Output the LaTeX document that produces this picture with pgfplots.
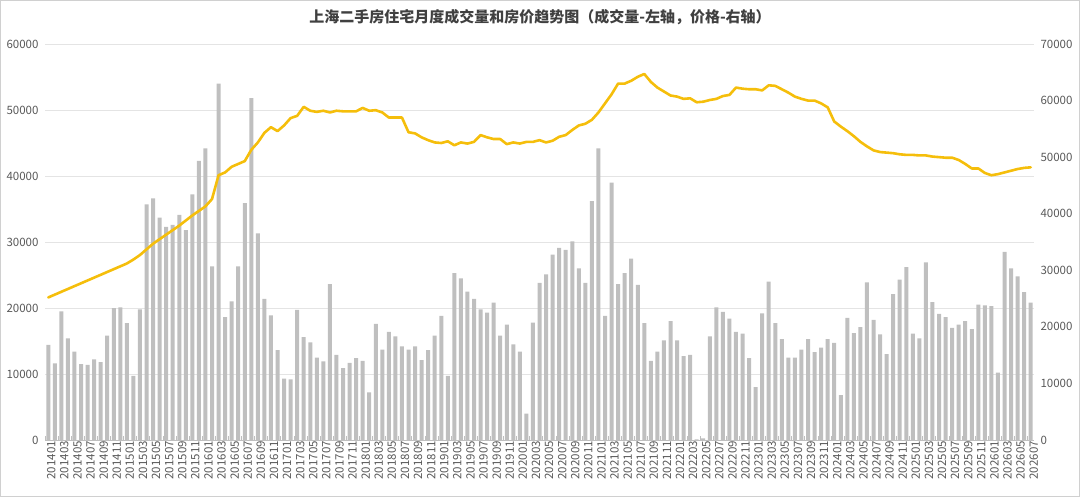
\documentclass[border=0pt]{standalone}
\usepackage{pgfplots}
\pgfplotsset{compat=1.18}
\usepackage{pgfplotstable}
\usepackage{fontspec}
\setmainfont{Noto Sans CJK SC}
\definecolor{barc}{HTML}{BFBFBF}
\definecolor{linec}{HTML}{F5BE0B}
\definecolor{gridc}{HTML}{E4E4E4}
\definecolor{tickc}{HTML}{595959}
\definecolor{titlec}{HTML}{404040}
\definecolor{framec}{HTML}{D0D0D0}

\pgfplotstableread{
x vol price
0 14400 25200
1 11600 25700
2 19500 26200
3 15400 26700
4 13400 27200
5 11500 27700
6 11400 28200
7 12200 28700
8 11800 29200
9 15800 29700
10 20000 30200
11 20100 30700
12 17700 31200
13 9700 31900
14 19800 32700
15 35700 33700
16 36600 34700
17 33700 35500
18 32300 36300
19 32600 37100
20 34100 37900
21 31800 38800
22 37200 39700
23 42300 40500
24 44200 41300
25 26300 42600
26 54000 46800
27 18600 47300
28 21000 48300
29 26300 48800
30 35900 49300
31 51800 51300
32 31300 52600
33 21400 54300
34 18900 55300
35 13600 54600
36 9300 55600
37 9200 56900
38 19700 57300
39 15600 58900
40 14800 58200
41 12500 58000
42 11900 58200
43 23600 57900
44 12900 58200
45 10900 58100
46 11700 58100
47 12400 58100
48 12000 58700
49 7200 58200
50 17600 58300
51 13700 57900
52 16400 57000
53 15700 57000
54 14200 57000
55 13700 54400
56 14200 54200
57 12100 53500
58 13600 53000
59 15800 52600
60 18800 52500
61 9700 52800
62 25300 52100
63 24500 52600
64 22500 52400
65 21400 52700
66 19800 53900
67 19300 53500
68 20800 53200
69 15800 53200
70 17500 52300
71 14500 52600
72 13400 52400
73 4000 52700
74 17800 52700
75 23800 53000
76 25100 52600
77 28100 52900
78 29100 53600
79 28800 53900
80 30100 54800
81 26000 55600
82 23800 55900
83 36200 56600
84 44200 57900
85 18800 59500
86 39000 61100
87 23600 63000
88 25300 63000
89 27500 63500
90 23500 64200
91 17700 64700
92 12000 63300
93 13400 62300
94 15100 61600
95 18000 60900
96 15100 60700
97 12700 60300
98 12900 60400
99 100 59700
100 250 59800
101 15700 60100
102 20100 60300
103 19400 60800
104 18400 61000
105 16400 62300
106 16100 62100
107 12400 62000
108 8000 62000
109 19200 61800
110 24000 62700
111 17700 62600
112 15300 62000
113 12500 61400
114 12500 60700
115 13700 60300
116 15300 60000
117 13300 60000
118 14000 59500
119 15300 58800
120 14700 56300
121 6800 55400
122 18500 54600
123 16200 53700
124 17100 52700
125 23900 51900
126 18200 51200
127 16000 50900
128 13000 50800
129 22100 50700
130 24300 50500
131 26200 50400
132 16100 50400
133 15400 50300
134 26900 50300
135 20900 50100
136 19100 50000
137 18600 49900
138 17000 49900
139 17500 49500
140 18000 48800
141 16800 48000
142 20500 48000
143 20400 47200
144 20300 46800
145 10200 47000
146 28500 47300
147 26000 47600
148 24800 47900
149 22400 48100
150 20800 48200
}\datatable

\begin{document}
\begin{tikzpicture}
\useasboundingbox (0,0) rectangle (1080bp,497bp);
\draw[framec, line width=1bp] (0.5bp,0.5bp) rectangle (1079.5bp,496.5bp);
\node[text=titlec, font=\fontsize{15bp}{18bp}\selectfont\bfseries] at (540bp,480bp)
  {上海二手房住宅月度成交量和房价趋势图（成交量-左轴，价格-右轴）};

\begin{axis}[
  at={(45bp,57bp)}, anchor=south west,
  scale only axis, width=989bp, height=396bp,
  xmin=-0.5, xmax=150.5,
  ymin=0, ymax=60000,
  ytick={0,10000,...,60000},
  scaled y ticks=false,
  /pgf/number format/.cd, set thousands separator={}, assume math mode=true, /pgfplots/.cd,
  axis x line*=bottom, axis y line*=left,
  y axis line style={draw=none},
  x axis line style={draw=barc, line width=0.8bp, -},
  ymajorgrids, grid style={gridc, line width=0.8bp},
  major tick length=0pt,
  xtick={0,2,...,150},
  minor xtick={-0.5,1.5,...,150.5},
  minor tick length=4bp,
  minor tick style={barc, line width=0.6bp},
  xtick pos=bottom,
  xminorgrids=false,
  minor x grid style={draw=none},
  xticklabels={201401,201403,201405,201407,201409,201411,
    201501,201503,201505,201507,201509,201511,
    201601,201603,201605,201607,201609,201611,
    201701,201703,201705,201707,201709,201711,
    201801,201803,201805,201807,201809,201811,
    201901,201903,201905,201907,201909,201911,
    202001,202003,202005,202007,202009,202011,
    202101,202103,202105,202107,202109,202111,
    202201,202203,202205,202207,202209,202211,
    202301,202303,202305,202307,202309,202311,
    202401,202403,202405,202407,202409,202411,
    202501,202503,202505,202507,202509,202511,
    202601,202603,202605,202607},
  xticklabel style={rotate=90, anchor=east, inner sep=1bp, xshift=0bp, yshift=-3bp, font=\fontsize{11.5bp}{13bp}\selectfont, text=tickc},
  yticklabel style={font=\fontsize{11.5bp}{13bp}\selectfont, text=tickc, xshift=-3bp},
]
\addplot[ybar, bar width=4bp, fill=barc, draw=none] table[x=x, y=vol] {\datatable};
\end{axis}

\begin{axis}[
  at={(45bp,57bp)}, anchor=south west,
  scale only axis, width=989bp, height=396bp,
  xmin=-0.5, xmax=150.5,
  ymin=0, ymax=70000,
  ytick={0,10000,...,70000},
  scaled y ticks=false,
  /pgf/number format/.cd, set thousands separator={}, assume math mode=true, /pgfplots/.cd,
  axis y line*=right,
  axis x line=none,
  y axis line style={draw=none},
  major tick length=0pt,
  yticklabel style={font=\fontsize{11.5bp}{13bp}\selectfont, text=tickc, xshift=3bp},
]
\addplot[linec, line width=2.6bp, line join=round, line cap=round] table[x=x, y=price] {\datatable};
\end{axis}
\end{tikzpicture}
\end{document}
